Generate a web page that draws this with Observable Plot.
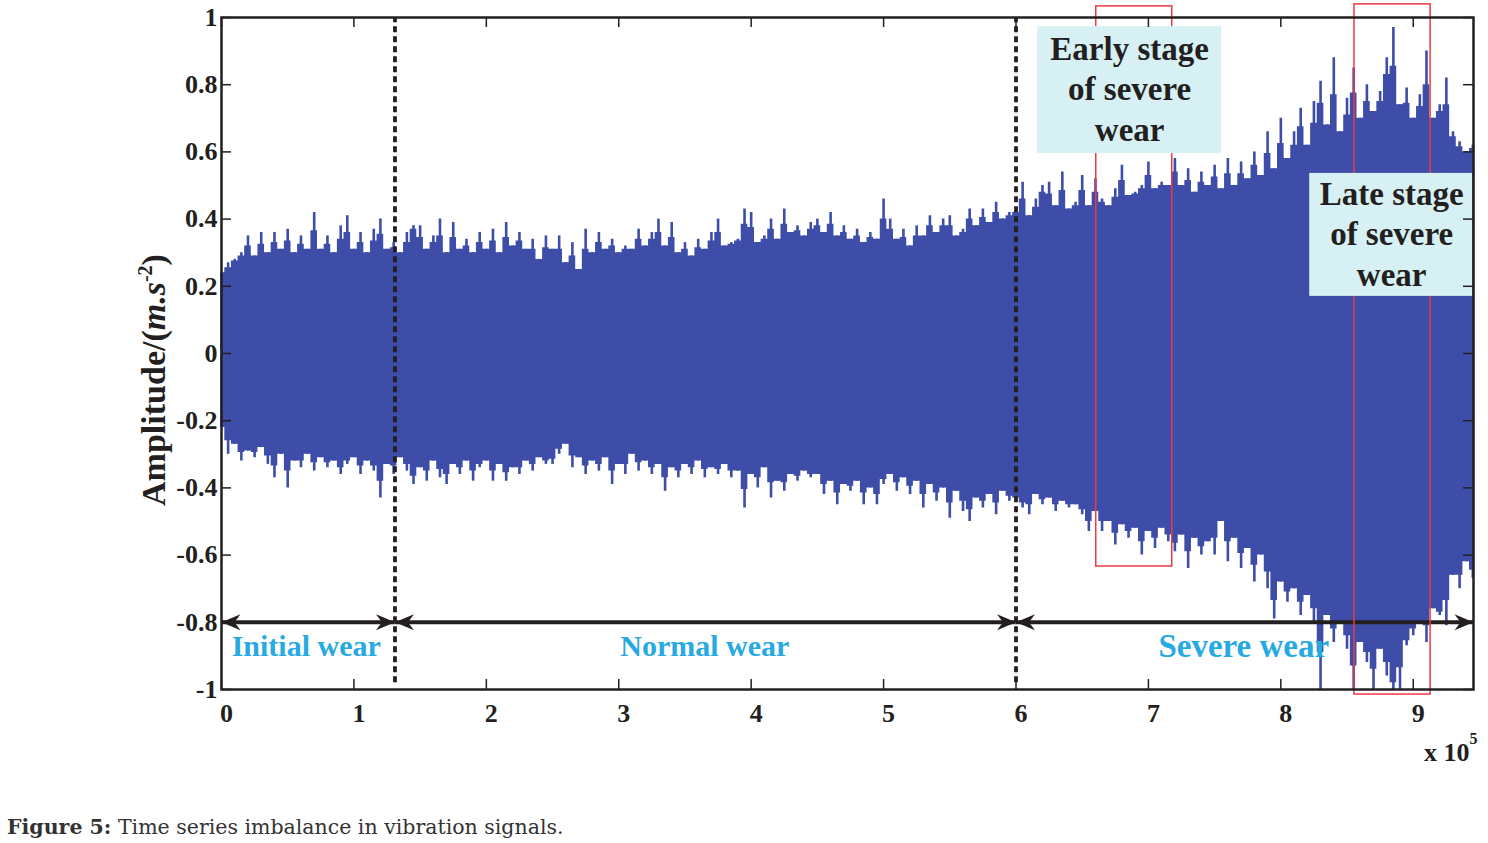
<!DOCTYPE html>
<html><head><meta charset="utf-8">
<script src="https://cdn.jsdelivr.net/npm/d3@7"></script>
<script src="https://cdn.jsdelivr.net/npm/@observablehq/plot@0.6"></script>
<style>
body{margin:0;background:#fff;}
#chart{position:absolute;left:0;top:0;}
#chart svg{display:block;}
#caption{position:absolute;left:7px;top:815px;font-family:"DejaVu Serif",serif;font-size:20.5px;color:#333;white-space:nowrap;}
</style></head><body>
<div id="chart"></div>
<div id="caption"><b>Figure 5:</b> Time series imbalance in vibration signals.</div>
<script>
// ---- data ----
// sample positions (x 10^5 samples), one reading every 0.05
const sampleX = d3.range(190).map(i => +(i * 0.05).toFixed(2));
// upper envelope of the vibration signal (m.s^-2)
const upper = [
 0.24,0.27,0.28,0.30,0.35,0.29,0.36,0.30,0.36,0.31,
 0.37,0.30,0.35,0.31,0.42,0.31,0.35,0.30,0.38,0.41,
 0.31,0.36,0.30,0.37,0.40,0.31,0.33,0.30,0.36,0.38,
 0.38,0.31,0.35,0.40,0.30,0.39,0.31,0.34,0.30,0.36,
 0.31,0.37,0.30,0.39,0.32,0.36,0.31,0.34,0.28,0.35,
 0.31,0.35,0.27,0.33,0.25,0.37,0.30,0.36,0.31,0.34,
 0.30,0.32,0.31,0.37,0.32,0.36,0.40,0.32,0.39,0.30,
 0.33,0.29,0.34,0.31,0.36,0.40,0.32,0.33,0.34,0.43,
 0.42,0.33,0.35,0.40,0.34,0.43,0.36,0.38,0.35,0.39,
 0.40,0.36,0.42,0.35,0.38,0.34,0.37,0.33,0.36,0.34,
 0.46,0.40,0.34,0.37,0.32,0.38,0.35,0.41,0.36,0.40,
 0.41,0.35,0.37,0.43,0.38,0.43,0.39,0.45,0.40,0.42,
 0.42,0.51,0.41,0.46,0.50,0.51,0.44,0.54,0.43,0.45,
 0.53,0.44,0.52,0.46,0.44,0.49,0.56,0.47,0.48,0.50,
 0.57,0.49,0.51,0.50,0.58,0.50,0.55,0.48,0.54,0.50,
 0.56,0.49,0.58,0.50,0.57,0.52,0.60,0.53,0.66,0.55,
 0.70,0.58,0.66,0.73,0.62,0.75,0.81,0.68,0.88,0.66,
 0.76,0.85,0.70,0.80,0.72,0.78,0.88,0.97,0.74,0.79,
 0.70,0.77,0.90,0.70,0.74,0.82,0.66,0.63,0.60,0.62
];
// lower envelope of the vibration signal (m.s^-2)
const lower = [
 -0.22,-0.30,-0.27,-0.32,-0.29,-0.31,-0.28,-0.33,-0.37,-0.30,
 -0.40,-0.32,-0.34,-0.30,-0.35,-0.31,-0.34,-0.32,-0.36,-0.33,
 -0.31,-0.36,-0.32,-0.35,-0.43,-0.33,-0.36,-0.31,-0.35,-0.39,
 -0.34,-0.38,-0.32,-0.37,-0.39,-0.33,-0.36,-0.32,-0.38,-0.34,
 -0.32,-0.38,-0.33,-0.38,-0.34,-0.36,-0.32,-0.35,-0.31,-0.33,
 -0.33,-0.30,-0.27,-0.34,-0.31,-0.36,-0.32,-0.35,-0.31,-0.39,
 -0.33,-0.36,-0.30,-0.35,-0.32,-0.36,-0.33,-0.41,-0.34,-0.37,
 -0.33,-0.36,-0.32,-0.37,-0.34,-0.36,-0.33,-0.37,-0.35,-0.46,
 -0.36,-0.40,-0.34,-0.43,-0.38,-0.41,-0.36,-0.38,-0.35,-0.37,
 -0.36,-0.42,-0.38,-0.45,-0.39,-0.41,-0.38,-0.45,-0.40,-0.45,
 -0.39,-0.36,-0.41,-0.37,-0.42,-0.38,-0.46,-0.39,-0.44,-0.40,
 -0.49,-0.41,-0.47,-0.50,-0.43,-0.46,-0.42,-0.48,-0.41,-0.44,
 -0.43,-0.46,-0.48,-0.42,-0.45,-0.43,-0.47,-0.44,-0.46,-0.45,
 -0.48,-0.53,-0.47,-0.53,-0.50,-0.57,-0.51,-0.55,-0.52,-0.60,
 -0.53,-0.58,-0.52,-0.56,-0.59,-0.54,-0.64,-0.55,-0.60,-0.56,
 -0.60,-0.50,-0.62,-0.55,-0.64,-0.58,-0.68,-0.60,-0.70,-0.79,
 -0.68,-0.74,-0.70,-0.78,-0.72,-0.80,-1.00,-0.78,-0.86,-0.80,
 -0.88,-1.00,-0.86,-0.92,-1.00,-0.88,-0.96,-1.00,-1.00,-0.87,
 -0.84,-0.80,-0.86,-0.76,-0.78,-0.81,-0.66,-0.70,-0.62,-0.67
];
const xTicks = [0,1,2,3,4,5,6,7,8,9];
const yTicks = [-1,-0.8,-0.6,-0.4,-0.2,0,0.2,0.4,0.6,0.8,1];
const xMax = 9.455;
// wear stages
const stageNames = ["Initial wear","Normal wear","Severe wear"];
const stageBounds = [0, 1.31, 6.0, xMax];
const dividerX = [1.31, 6.0];
// highlighted windows (red boxes)
const windowX1 = [6.606, 8.556];
const windowX2 = [7.18, 9.131];
const windowY1 = [-0.634, -1.015];
const windowY2 = [1.033, 1.039];
// annotation notes
const noteText = ["Early stage\nof severe\nwear", "Late stage\nof severe\nwear"];

// ---- layout ----
const serif = "'Liberation Serif','Times New Roman',serif";
const ink = "#231f20";
const blue = "#3d4da8";
const stageLabelX = [0.64, 3.65, 7.72];
const stageLabelSize = [30, 30, 33];
const stageLabelY = -0.872;
const notes = [
  {x1:6.163, x2:7.553, y1:0.595, y2:0.973, tx:6.858, ty:0.792},
  {x1:8.218, x2:9.449, y1:0.170, y2:0.536, tx:8.837, ty:0.360}
].map((d,i)=>({...d, text: noteText[i]}));

// signal table: tips of every reading, and the dense body below the tips
const n = upper.length;
const nb = (a, i) => [a[Math.max(0,i-1)], a[i], a[Math.min(n-1,i+1)]];
const signal = sampleX.map((x,i)=>({
  x, hi: upper[i], lo: lower[i],
  bodyHi: (Math.min(...nb(upper,i)) + upper[i]) / 2,
  bodyLo: (Math.max(...nb(lower,i)) + lower[i]) / 2
}));
const segs = stageNames.map((n,k)=>({x1: stageBounds[k], x2: stageBounds[k+1]}));
const heads = [];
segs.forEach(s => { heads.push({x: s.x1, rot: 180}); heads.push({x: s.x2, rot: 0}); });
const arrowHead = {draw(ctx){ ctx.moveTo(0,0); ctx.lineTo(-19,-8); ctx.lineTo(-13,0); ctx.lineTo(-19,8); ctx.closePath(); }};
const windows = windowX1.map((d,i)=>({x1:d, x2:windowX2[i], y1:windowY1[i], y2:windowY2[i]}));
const tx = 10/132.4, ty = 10/336;

const svg = Plot.plot({
  width:1488, height:775,
  marginLeft:221, marginRight:15, marginTop:17, marginBottom:86,
  x:{domain:[0,xMax]}, y:{domain:[-1,1]},
  style:{fontFamily: serif, background:"transparent", overflow:"visible", color: ink},
  marks:[
    Plot.areaY(signal,{x:"x", y1:"bodyLo", y2:"bodyHi", fill:blue, curve:"step"}),
    Plot.ruleX(signal,{x:"x", y1:"lo", y2:"hi", stroke:blue, strokeWidth:2.6}),
    Plot.ruleX(dividerX,{y1:-0.98, y2:1, stroke:ink, strokeWidth:3.8, strokeDasharray:"6 4"}),
    Plot.ruleY(segs,{x1:"x1", x2:"x2", y:-0.8, stroke:ink, strokeWidth:4}),
    Plot.dot(heads,{x:"x", y:-0.8, symbol:arrowHead, rotate:"rot", fill:ink, stroke:"none"}),
    Plot.text(stageNames,{x:stageLabelX, y:stageLabelY, text:d=>d, fill:"#27aae1", fontSize:stageLabelSize, fontWeight:"bold"}),
    Plot.rect(windows,{x1:"x1", x2:"x2", y1:"y1", y2:"y2", fill:"none", stroke:"#ee3a43", strokeWidth:1.5}),
    Plot.rect(notes,{x1:"x1", x2:"x2", y1:"y1", y2:"y2", fill:"#d6f0f3"}),
    Plot.text(notes,{x:"tx", y:"ty", text:"text", lineHeight:1.22, fontSize:33, fontWeight:"bold", fill:ink}),
    Plot.ruleX(xTicks,{y1:-1, y2:-1+ty, stroke:ink, strokeWidth:1.5}),
    Plot.ruleX(xTicks,{y1:1-ty, y2:1, stroke:ink, strokeWidth:1.5}),
    Plot.ruleY(yTicks,{x1:0, x2:tx, stroke:ink, strokeWidth:1.5}),
    Plot.ruleY(yTicks,{x1:xMax-tx, x2:xMax, stroke:ink, strokeWidth:1.5}),
    Plot.frame({stroke:ink, strokeWidth:2.5}),
    Plot.axisX({ticks:xTicks, tickSize:0, tickPadding:14, dx:5, fontSize:26, fontWeight:"bold", label:null, tickFormat:d=>String(d)}),
    Plot.axisY({ticks:yTicks, tickSize:0, tickPadding:4, fontSize:26, fontWeight:"bold", label:null, tickFormat:d=>String(d)})
  ]
});
document.getElementById("chart").appendChild(svg);

const s = d3.select(svg);
const yl = s.append("text")
  .attr("transform","translate(165,380) rotate(-90)")
  .attr("text-anchor","middle")
  .attr("font-family", serif).attr("font-size",34).attr("font-weight","bold").attr("fill",ink);
yl.append("tspan").text("Amplitude/(");
yl.append("tspan").attr("font-style","italic").text("m.s");
yl.append("tspan").attr("dy",-13).attr("font-size",20).text("-2");
yl.append("tspan").attr("dy",13).text(")");

const xl = s.append("text").attr("x",1424).attr("y",761).attr("text-anchor","start")
  .attr("font-family", serif).attr("font-size",26).attr("font-weight","bold").attr("fill",ink);
xl.append("tspan").text("x 10");
xl.append("tspan").attr("dy",-17).attr("font-size",16).text("5");
</script></body></html>
